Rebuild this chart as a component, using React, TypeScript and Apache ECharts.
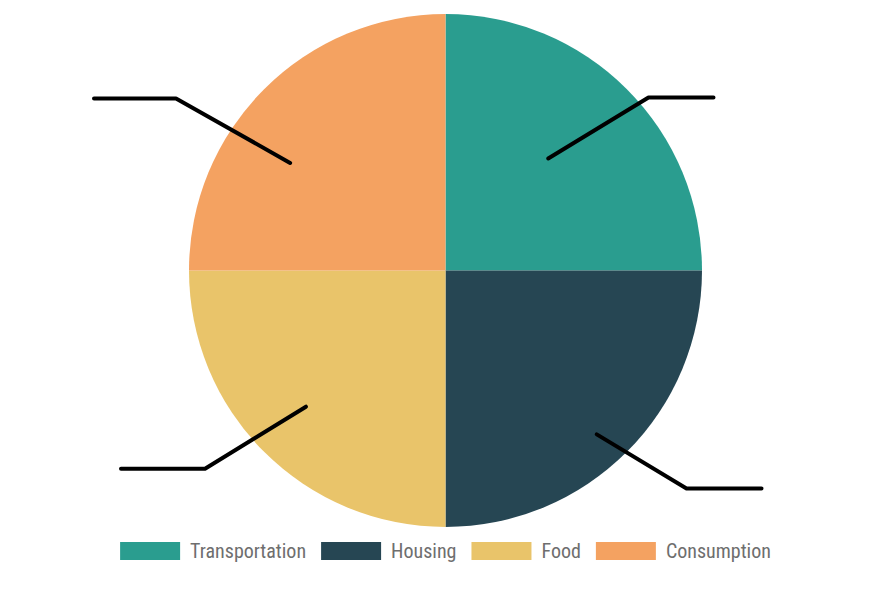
import React, { useEffect, useRef } from "react";
import * as echarts from "echarts";

const categories = ["Transportation", "Housing", "Food", "Consumption"];
const values = [25, 25, 25, 25];
const colors = ["#2a9d8f", "#264653", "#e9c46a", "#f4a261"];

// label-line styling config (where each leader line begins / bends / ends)
const leaderStartRadius = [152, 223, 195, 189];
const leaderStartAngle = [92.5, 87.7, 89.3, 100.3];
const leaderEnd: [number, number][] = [
  [713.5, 97.5],
  [761.5, 488.5],
  [121, 468.7],
  [94, 98.5],
];
const leaderLen2 = [65, 75, 84, 82];

const CENTER: [number, number] = [445.5, 270.5];

export default function App() {
  const ref = useRef<HTMLDivElement>(null);
  useEffect(() => {
    if (!ref.current) return;
    const chart = echarts.init(ref.current, null, { renderer: "svg" });
    const pieData = categories.map((c, i) => ({
      name: c,
      value: values[i],
      itemStyle: { color: colors[i] },
    }));
    const leaderSeries = categories.map((_, s) => ({
      type: "pie" as const,
      silent: true,
      z: 5,
      center: CENTER,
      radius: [0, leaderStartRadius[s]],
      startAngle: leaderStartAngle[s],
      avoidLabelOverlap: false,
      emphasis: { disabled: true },
      data: categories.map((c, i) => ({
        name: c,
        value: values[i],
        itemStyle: { color: "rgba(0,0,0,0)" },
        label: {
          show: i === s,
          position: "outside",
          formatter: " ",
          color: "rgba(0,0,0,0)",
          fontSize: 10,
        },
        labelLine: {
          show: i === s,
          length: 20,
          length2: leaderLen2[s],
          lineStyle: { color: "#000", width: 4, cap: "round", join: "round" },
        },
      })),
      labelLayout: (p: any) => {
        if (p.dataIndex !== s) return {};
        const [x, y] = leaderEnd[s];
        const right = x > CENTER[0];
        return { x, y, align: right ? "left" : "right", verticalAlign: "middle" };
      },
    }));
    chart.setOption({
      animation: false,
      legend: {
        data: categories,
        top: 536,
        left: "center",
        itemWidth: 60,
        itemHeight: 18,
        itemGap: 15,
        icon: "rect",
        textStyle: {
          fontFamily: "'Liberation Sans Narrow', 'Roboto Condensed', 'DejaVu Sans Condensed', sans-serif",
          fontSize: 20,
          color: "#6e6e6e",
          padding: [0, 0, 0, 5],
        },
      },
      series: [
        {
          type: "pie",
          center: CENTER,
          radius: [0, 256.5],
          startAngle: 90,
          silent: true,
          label: { show: false },
          labelLine: { show: false },
          data: pieData,
        },
        ...leaderSeries,
      ],
    });
    return () => chart.dispose();
  }, []);
  return (
    <div
      ref={ref}
      style={{ position: "fixed", left: 0, top: 0, width: 891, height: 591, background: "#fff" }}
    />
  );
}
